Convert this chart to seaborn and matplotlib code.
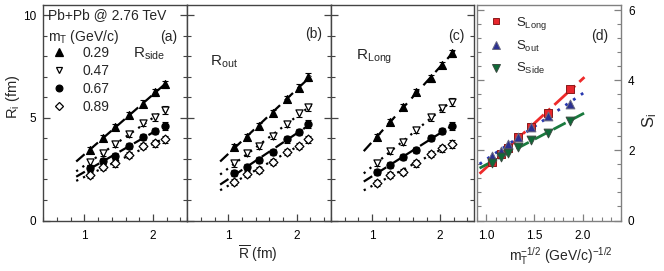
import numpy as np
import pandas as pd
import matplotlib
matplotlib.use("Agg")
import matplotlib.pyplot as plt
import seaborn as sns
from matplotlib.ticker import MultipleLocator
from matplotlib.lines import Line2D

# ---------------- data ----------------
R_bar = [1.08, 1.27, 1.45, 1.65, 1.86, 2.03, 2.17]
mT_labels = ["0.29", "0.47", "0.67", "0.89"]

R_side_029 = [3.45, 4.00, 4.56, 5.13, 5.70, 6.24, 6.63]
R_side_047 = [2.86, 3.27, 3.72, 4.21, 4.76, 5.02, 5.38]
R_side_067 = [2.54, 2.91, 3.15, 3.63, 4.05, 4.36, 4.61]
R_side_089 = [2.21, 2.62, 2.78, 3.19, 3.63, 3.76, 3.95]

R_out_029 = [3.59, 4.08, 4.60, 5.25, 5.90, 6.48, 7.00]
R_out_047 = [2.78, 3.27, 3.63, 4.11, 4.70, 5.22, 5.51]
R_out_067 = [2.30, 2.62, 2.94, 3.35, 3.95, 4.32, 4.70]
R_out_089 = [1.89, 2.26, 2.46, 2.86, 3.35, 3.63, 3.95]

R_long_029 = [4.08, 4.81, 5.51, 6.27, 6.92, 7.57, 8.14]
R_long_047 = [2.81, 3.40, 3.83, 4.40, 5.02, 5.46, 5.78]
R_long_067 = [2.37, 2.70, 3.08, 3.43, 4.00, 4.37, 4.60]
R_long_089 = [1.84, 2.21, 2.37, 2.78, 3.24, 3.51, 3.72]

R_err = [0.15, 0.15, 0.15, 0.15, 0.15, 0.16, 0.18]

mT_inv_sqrt = [1.06, 1.15, 1.23, 1.33, 1.46, 1.64, 1.87]
S_long = [1.68, 1.90, 2.07, 2.37, 2.66, 3.08, 3.75]
S_out = [1.84, 1.99, 2.17, 2.39, 2.66, 2.97, 3.33]
S_side = [1.65, 1.80, 1.94, 2.09, 2.30, 2.51, 2.83]

fit_range_R = (0.88, 2.21)
fit_range_S = (0.93, 2.02)

# ---------------- style ----------------
sns.set_style("ticks")
plt.rcParams["font.family"] = ["Liberation Sans", "DejaVu Sans"]
plt.rcParams["mathtext.fontset"] = "custom"
plt.rcParams["mathtext.rm"] = "Liberation Sans"
plt.rcParams["mathtext.it"] = "Liberation Sans:italic"
plt.rcParams["mathtext.bf"] = "Liberation Sans:bold"

W, H = 664, 271
fig = plt.figure(figsize=(W / 100, H / 100), dpi=100)
TOP, BOT = 5.0, 220.5


def make_ax(x0, x1):
    return fig.add_axes([x0 / W, (H - BOT) / H, (x1 - x0) / W, (BOT - TOP) / H])


axA = make_ax(43.3, 187.3)
axB = make_ax(187.3, 331.0)
axC = make_ax(331.0, 474.3)
axD = make_ax(476.7, 621.0)

spine_dark = "#444444"
spine_light = "#808080"

markers = ["^", "v", "o", "D"]
filled = [True, False, True, False]
msizes = [32, 26, 26, 20]
lstyles = [(0, (5, 3)), (0, (1, 2.4)), (0, (4.5, 3)), (0, (1, 2.4))]


def draw_panel(ax, series):
    for vals, mk, fl, ms, ls in zip(series, markers, filled, msizes, lstyles):
        x = np.array(R_bar)
        y = np.array(vals)
        k, b = np.polyfit(x, y, 1)
        xf = np.linspace(fit_range_R[0], fit_range_R[1], 50)
        sns.lineplot(x=xf, y=k * xf + b, ax=ax, color="black", lw=1.6,
                     linestyle=ls, zorder=2)
        ax.errorbar(x, y, yerr=R_err, fmt="none", ecolor="black",
                    elinewidth=0.8, capsize=2.5, capthick=0.8, zorder=3)
        sns.scatterplot(x=x, y=y, ax=ax, marker=mk, s=ms,
                        color="black" if fl else "white",
                        edgecolor="black", linewidth=0.9, zorder=4)
    ax.set_xlim(0.4, 2.5)
    ax.set_ylim(0, 10.5)
    ax.xaxis.set_major_locator(MultipleLocator(1))
    ax.xaxis.set_minor_locator(MultipleLocator(0.2))
    ax.yaxis.set_major_locator(MultipleLocator(5))
    ax.yaxis.set_minor_locator(MultipleLocator(1))
    ax.tick_params(axis="both", which="both", direction="in", colors=spine_dark,
                   labelcolor="black", left=True, right=True, top=False, bottom=True)
    ax.tick_params(axis="both", which="major", length=5, width=0.9, labelsize=8.5)
    ax.tick_params(axis="both", which="minor", length=2.8, width=0.8)
    ax.tick_params(axis="x", pad=7)
    ax.tick_params(axis="y", pad=5)
    for s in ax.spines.values():
        s.set_color(spine_dark)
        s.set_linewidth(1.0)
        s.set_visible(True)
    ax.set_xlabel("")
    ax.set_ylabel("")


draw_panel(axA, [R_side_029, R_side_047, R_side_067, R_side_089])
draw_panel(axB, [R_out_029, R_out_047, R_out_067, R_out_089])
draw_panel(axC, [R_long_029, R_long_047, R_long_067, R_long_089])
axB.tick_params(axis="y", labelleft=False)
axC.tick_params(axis="y", labelleft=False)

# panel a texts
axA.text(0.035, 0.952, "Pb+Pb @ 2.76 TeV", transform=axA.transAxes,
         fontsize=10, ha="left", va="center")
axA.text(0.035, 0.85, r"m$_\mathregular{T}$ (GeV/c)", transform=axA.transAxes,
         fontsize=10, ha="left", va="center")
axA.text(0.93, 0.85, "(a)", transform=axA.transAxes, fontsize=10,
         ha="right", va="center")
axA.text(0.62, 0.775, r"R$_\mathregular{side}$", transform=axA.transAxes,
         fontsize=11, ha="left", va="center")
handles = [Line2D([], [], ls="none", marker=m, markersize=np.sqrt(s) * 0.95,
                  markerfacecolor="black" if f else "white",
                  markeredgecolor="black", markeredgewidth=0.9)
           for m, f, s in zip(markers, filled, msizes)]
axA.legend(handles, mT_labels, loc="upper left", bbox_to_anchor=(0.06, 0.81),
           frameon=False, fontsize=10, handlelength=1.0, handletextpad=1.2,
           labelspacing=0.28, borderpad=0, borderaxespad=0)

axB.text(0.935, 0.865, "(b)", transform=axB.transAxes, fontsize=10,
         ha="right", va="center")
axB.text(0.155, 0.735, r"R$_\mathregular{out}$", transform=axB.transAxes,
         fontsize=11, ha="left", va="center")
axC.text(0.935, 0.855, "(c)", transform=axC.transAxes, fontsize=10,
         ha="right", va="center")
axC.text(0.175, 0.76, r"R$_\mathregular{Long}$", transform=axC.transAxes,
         fontsize=11, ha="left", va="center")

# ---------------- panel d ----------------
d_series = [
    (S_long, "s", "#e8262c", "#8a1a1a", "#ee2a2a", (0, (7, 2, 1.2, 2)), r"S$_\mathregular{Long}$", 26),
    (S_out, "^", "#2c3090", "#6a6a80", "#2838b0", (0, (1, 2.4)), r"S$_\mathregular{out}$", 40),
    (S_side, "v", "#0f6a38", "#3a4a40", "#1a7a3e", (0, (5, 2.5)), r"S$_\mathregular{Side}$", 40),
]
d_handles = []
for vals, mk, fc, ec, lc, ls, lab, ms in d_series:
    x = np.array(mT_inv_sqrt)
    y = np.array(vals)
    k, b = np.polyfit(x, y, 1)
    xf = np.linspace(fit_range_S[0], fit_range_S[1], 50)
    sns.lineplot(x=xf, y=k * xf + b, ax=axD, color=lc, lw=2.0, linestyle=ls, zorder=2)
for vals, mk, fc, ec, lc, ls, lab, ms in d_series:
    sns.scatterplot(x=mT_inv_sqrt, y=vals, ax=axD, marker=mk, s=ms, color=fc,
                    edgecolor=ec, linewidth=0.7, zorder=4)
    d_handles.append(Line2D([], [], ls="none", marker=mk, markersize=np.sqrt(ms) * 0.85,
                            markerfacecolor=fc, markeredgecolor=ec, markeredgewidth=0.7))
axD.legend(d_handles, [s[6] for s in d_series], loc="upper left",
           bbox_to_anchor=(0.09, 0.955), frameon=False, fontsize=9.5,
           handlelength=1.0, handletextpad=1.0, labelspacing=0.55,
           borderpad=0, borderaxespad=0)
axD.text(0.91, 0.855, "(d)", transform=axD.transAxes, fontsize=10,
         ha="right", va="center")
axD.set_xlim(0.9, 2.4)
axD.set_ylim(0, 6.15)
axD.xaxis.set_major_locator(MultipleLocator(0.5))
axD.xaxis.set_minor_locator(MultipleLocator(0.1))
axD.yaxis.set_major_locator(MultipleLocator(2))
axD.yaxis.set_minor_locator(MultipleLocator(0.4))
axD.xaxis.set_major_formatter(matplotlib.ticker.FormatStrFormatter("%.1f"))
axD.tick_params(axis="both", which="both", direction="in", colors=spine_light,
                labelcolor="black", left=True, right=True, top=False, bottom=True,
                labelleft=False, labelright=True)
axD.tick_params(axis="both", which="major", length=5, width=0.9, labelsize=8.5)
axD.tick_params(axis="both", which="minor", length=2.8, width=0.8)
axD.tick_params(axis="x", pad=7)
axD.tick_params(axis="y", pad=5)
for s in axD.spines.values():
    s.set_color(spine_light)
    s.set_linewidth(1.0)
    s.set_visible(True)
axD.set_xlabel("")
axD.set_ylabel("")

# ---------------- axis labels ----------------
fig.text(13 / W, 1 - 97 / H, r"R$_\mathregular{i}$ (fm)", rotation=90,
         fontsize=10.5, ha="center", va="center")
fig.text(650 / W, 1 - 120 / H, r"S$_\mathregular{i}$", rotation=90,
         fontsize=12, ha="center", va="center")
fig.text(258 / W, 1 - 254 / H, r"$\mathregular{\overline{R}}$ (fm)",
         fontsize=10, ha="center", va="center")
fig.text(561 / W, 1 - 256 / H,
         r"m$_\mathregular{T}^\mathregular{-1/2}$ (GeV/c)$^\mathregular{-1/2}$",
         fontsize=10, ha="center", va="center")

fig.savefig("out.png", dpi=100)
